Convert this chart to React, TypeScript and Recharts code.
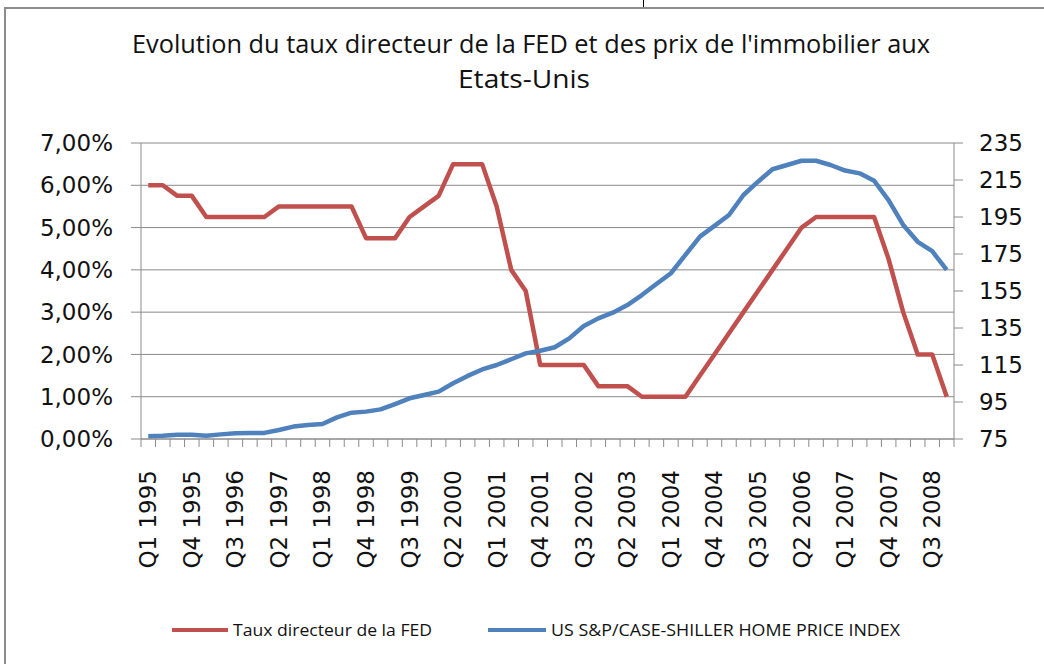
import { LineChart, Line, XAxis, YAxis, CartesianGrid } from "recharts";

const years = [1995, 1996, 1997, 1998, 1999, 2000, 2001, 2002, 2003, 2004, 2005, 2006, 2007, 2008];
const quarterNames = ["Q1", "Q2", "Q3", "Q4"];
const quarters = years.flatMap((y) => quarterNames.map((q) => `${q} ${y}`));

// taux directeur (%), one value per quarter
const fedRate = [
  6.0, 6.0, 5.75, 5.75, 5.25, 5.25, 5.25, 5.25, 5.25, 5.5, 5.5, 5.5, 5.5, 5.5,
  5.5, 4.75, 4.75, 4.75, 5.25, 5.5, 5.75, 6.5, 6.5, 6.5, 5.5, 4.0, 3.5, 1.75,
  1.75, 1.75, 1.75, 1.25, 1.25, 1.25, 1.0, 1.0, 1.0, 1.0, 1.5, 2.0, 2.5, 3.0,
  3.5, 4.0, 4.5, 5.0, 5.25, 5.25, 5.25, 5.25, 5.25, 4.25, 3.0, 2.0, 2.0, 1.0,
];

// S&P/Case-Shiller home price index
const homeIndex = [
  76.5, 76.8, 77.3, 77.3, 76.8, 77.5, 78.1, 78.2, 78.3, 79.9, 81.7, 82.6, 83.1, 86.7,
  89.2, 89.8, 91.0, 93.9, 97.0, 98.8, 100.6, 105.1, 109.1, 112.6, 115.0, 118.1, 121.3, 122.7,
  124.6, 129.4, 136.1, 140.2, 143.3, 147.4, 152.8, 158.8, 164.6, 174.5, 184.4, 190.2, 196.1, 206.9,
  214.1, 220.8, 223.1, 225.4, 225.4, 223.1, 220.1, 218.6, 214.6, 204.0, 190.7, 181.6, 176.5, 166.4,
];

const leftTicks = [0, 1, 2, 3, 4, 5, 6, 7];
const rightTicks = [75, 95, 115, 135, 155, 175, 195, 215, 235];
const labelStep = 3;

const data = quarters.map((name, i) => ({ idx: i, name, fed: fedRate[i], hpi: homeIndex[i] }));

// tick marks sit between the quarters, labels on every third quarter
const xTicks = [
  ...quarters.map((_, i) => i - 0.5),
  quarters.length - 0.5,
  ...quarters.map((_, i) => i).filter((i) => i % labelStep === 0),
].sort((a, b) => a - b);

const AXIS = "#8a8a8a";
const RED = "#c0504d";
const BLUE = "#4f81bd";
const AXIS_FONT = "'DejaVu Sans', sans-serif";
const TITLE_FONT = "'Open Sans', sans-serif";

const pct = (v: number) => `${v.toFixed(2).replace(".", ",")}%`;

function QuarterTick(props: any) {
  const { x, y, payload } = props;
  const v = payload.value;
  if (!Number.isInteger(v)) {
    return <line x1={x} x2={x} y1={y} y2={y + 8} stroke={AXIS} strokeWidth={1} />;
  }
  const ty = y + 31;
  return (
    <text
      x={x}
      y={ty}
      transform={`rotate(-90, ${x}, ${ty})`}
      textAnchor="end"
      dominantBaseline="central"
      fontFamily={AXIS_FONT}
      fontSize={23}
      fill="#111"
    >
      {quarters[v]}
    </text>
  );
}

export default function App() {
  return (
    <div
      style={{
        position: "fixed",
        left: 0,
        top: 0,
        width: 1044,
        height: 664,
        background: "#fff",
        overflow: "hidden",
      }}
    >
      <div style={{ position: "absolute", left: 643, top: 0, width: 1, height: 8, background: "#000" }} />
      <div
        style={{
          position: "absolute",
          left: 4,
          top: 7,
          width: 1100,
          height: 700,
          border: "2px solid #8c8c8c",
        }}
      />
      <div style={{ position: "absolute", left: 0, top: 0 }}>
        <LineChart
          width={1044}
          height={664}
          data={data}
          margin={{ top: 143, right: 0, left: 0, bottom: 75 }}
        >
          <CartesianGrid
            xAxisId="x"
            yAxisId="left"
            vertical={false}
            stroke={AXIS}
            strokeWidth={1}
          />
          <XAxis
            xAxisId="x"
            dataKey="idx"
            type="number"
            domain={[-0.5, quarters.length - 0.5]}
            ticks={xTicks}
            interval={0}
            height={150}
            tickSize={0}
            tickMargin={0}
            tickLine={false}
            axisLine={{ stroke: AXIS }}
            tick={<QuarterTick />}
          />
          <YAxis
            yAxisId="left"
            domain={[0, 7]}
            ticks={leftTicks}
            interval={0}
            width={141}
            tickSize={10}
            tickMargin={18}
            tickFormatter={pct}
            axisLine={{ stroke: AXIS }}
            tickLine={{ stroke: AXIS }}
            tick={{ fontFamily: AXIS_FONT, fontSize: 23, fill: "#111" }}
          />
          <YAxis
            yAxisId="right"
            orientation="right"
            domain={[75, 235]}
            ticks={rightTicks}
            interval={0}
            width={90}
            tickSize={9}
            tickMargin={16}
            axisLine={{ stroke: AXIS }}
            tickLine={{ stroke: AXIS }}
            tick={{ fontFamily: AXIS_FONT, fontSize: 23, fill: "#111", textAnchor: "start" }}
          />
          <Line
            xAxisId="x"
            yAxisId="left"
            type="linear"
            dataKey="fed"
            name="Taux directeur de la FED"
            stroke={RED}
            strokeWidth={4.5}
            strokeLinejoin="round"
            dot={false}
            activeDot={false}
            isAnimationActive={false}
          />
          <Line
            xAxisId="x"
            yAxisId="right"
            type="linear"
            dataKey="hpi"
            name="US S&P/CASE-SHILLER HOME PRICE INDEX"
            stroke={BLUE}
            strokeWidth={4.5}
            strokeLinejoin="round"
            dot={false}
            activeDot={false}
            isAnimationActive={false}
          />
        </LineChart>
      </div>
      <svg
        width={1044}
        height={664}
        style={{ position: "absolute", left: 0, top: 0, pointerEvents: "none" }}
      >
        <text
          x={531}
          y={53}
          textAnchor="middle"
          fontFamily={TITLE_FONT}
          fontSize={25}
          fill="#111"
          textLength={798}
          lengthAdjust="spacingAndGlyphs"
        >
          Evolution du taux directeur de la FED et des prix de l'immobilier aux
        </text>
        <text
          x={524}
          y={88}
          textAnchor="middle"
          fontFamily={TITLE_FONT}
          fontSize={25}
          fill="#111"
          textLength={132}
          lengthAdjust="spacingAndGlyphs"
        >
          Etats-Unis
        </text>
        <line x1={172} x2={228} y1={630} y2={630} stroke={RED} strokeWidth={4} />
        <text
          x={233}
          y={636}
          fontFamily={TITLE_FONT}
          fontSize={17}
          fill="#111"
          textLength={199}
          lengthAdjust="spacingAndGlyphs"
        >
          Taux directeur de la FED
        </text>
        <line x1={488} x2={546} y1={630} y2={630} stroke={BLUE} strokeWidth={4} />
        <text
          x={551}
          y={636}
          fontFamily={TITLE_FONT}
          fontSize={17}
          fill="#111"
          textLength={349}
          lengthAdjust="spacingAndGlyphs"
        >
          US S&amp;P/CASE-SHILLER HOME PRICE INDEX
        </text>
      </svg>
    </div>
  );
}
